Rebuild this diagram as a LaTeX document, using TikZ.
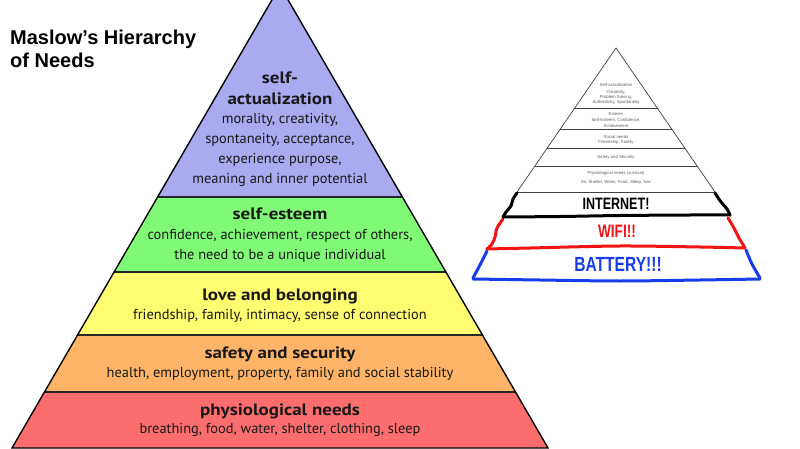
\documentclass[tikz,border=0pt]{standalone}
\usepackage{fontspec}
\setmainfont{PT Sans}
\newfontfamily\headfont[FakeStretch=1.15]{PT Sans}
\newfontfamily\titlefont{Liberation Sans}
\newfontfamily\handfont{Liberation Sans}
\definecolor{lav}{RGB}{170,170,240}
\definecolor{grn}{RGB}{128,250,118}
\definecolor{yel}{RGB}{254,252,112}
\definecolor{org}{RGB}{253,180,104}
\definecolor{rd}{RGB}{252,110,110}
\definecolor{txt}{RGB}{25,25,25}
\definecolor{hred}{RGB}{240,20,20}
\definecolor{hblue}{RGB}{25,60,235}
\definecolor{tiny}{RGB}{95,95,95}
\tikzset{
  head/.style={font=\headfont\fontsize{16.5}{18}\selectfont\bfseries, text=txt, inner sep=0pt},
  body/.style={font=\fontsize{14.4}{18}\selectfont, text=txt, inner sep=0pt},
  bandline/.style={draw=black!85, line width=1.3pt},
  smallline/.style={draw=black!75, line width=0.7pt},
  smalltext/.style={font=\titlefont\fontsize{4.3}{5}\selectfont, text=tiny, inner sep=0pt},
  hand/.style={line width=3pt, line cap=round, line join=round},
  handtext/.style={font=\handfont\bfseries, inner sep=0pt}
}
\begin{document}
\begin{tikzpicture}[x=1pt,y=-1pt]
\useasboundingbox (0,0) rectangle (800,449);
\fill[white] (0,0) rectangle (800,449);
% title
\node[font=\titlefont\bfseries\fontsize{20}{23}\selectfont, anchor=base west, inner sep=0pt] (t1) at (10,45) {Maslow’s Hierarchy};
\node[font=\titlefont\bfseries\fontsize{20}{23}\selectfont, anchor=base west, inner sep=0pt] (t2) at (10,68) {of Needs};
% big pyramid
\coordinate (apex) at (280,-14);
\coordinate (bl) at (12,448);
\coordinate (br) at (548,448);
\begin{scope}
\clip (apex) -- (bl) -- (br) -- cycle;
\fill[lav] (0,-20) rectangle (800,197);
\fill[grn] (0,197) rectangle (800,272);
\fill[yel] (0,272) rectangle (800,335);
\fill[org] (0,335) rectangle (800,392);
\fill[rd] (0,392) rectangle (800,460);
\end{scope}
\draw[bandline] (157.6,197) -- (402.4,197);
\draw[bandline] (114.1,272) -- (445.9,272);
\draw[bandline] (77.6,335) -- (482.4,335);
\draw[bandline] (44.5,392) -- (515.5,392);
\draw[line width=1.4pt, line join=miter] (apex) -- (bl) -- (br) -- cycle;
% texts
\node[head] (h1a) at (280,78) {self-};
\node[head] (h1b) at (280,99) {actualization};
\node[body] (b1a) at (280,120) {morality, creativity,};
\node[body] (b1b) at (280,140) {spontaneity, acceptance,};
\node[body] (b1c) at (280,160) {experience purpose,};
\node[body] (b1d) at (280,180) {meaning and inner potential};
\node[head] (h2) at (280,214) {self-esteem};
\node[body] (b2a) at (280,236) {confidence, achievement, respect of others,};
\node[body] (b2b) at (280,256) {the need to be a unique individual};
\node[head] (h3) at (280,296) {love and belonging};
\node[body] (b3) at (280,316) {friendship, family, intimacy, sense of connection};
\node[head] (h4) at (280,354) {safety and security};
\node[body] (b4) at (280,374) {health, employment, property, family and social stability};
\node[head] (h5) at (280,411) {physiological needs};
\node[body] (b5) at (280,430) {breathing, food, water, shelter, clothing, sleep};
% small pyramid
\coordinate (sapex) at (616,48);
\coordinate (sl) at (517,192);
\coordinate (sr) at (715,192);
\draw[smallline] (sl) -- (sapex) -- (sr);
\draw[smallline] (574.3,108.7) -- (657.7,108.7);
\draw[smallline] (559.8,129.7) -- (672.2,129.7);
\draw[smallline] (547.3,148) -- (684.7,148);
\draw[smallline] (534.9,166) -- (697.1,166);
\draw[smallline] (sl) -- (sr);
\node[smalltext] (s1) at (616,85) {Self-actualization};
\node[smalltext] (s2) at (616,92.5) {Creativity,};
\node[smalltext] (s3) at (616,97.5) {Problem Solving,};
\node[smalltext] (s4) at (616,102.5) {Authenticity, Spontaneity};
\node[smalltext] (s5) at (616,114) {Esteem};
\node[smalltext] (s6) at (616,120.5) {Self-Esteem, Confidence,};
\node[smalltext] (s7) at (616,125.5) {Achievement};
\node[smalltext] (s8) at (616,136.5) {Social needs};
\node[smalltext] (s9) at (616,142.5) {Friendship, Family};
\node[smalltext] (s10) at (616,157) {Safety and Security};
\node[smalltext] (s11) at (616,173) {Physiological needs (survival)};
\node[smalltext] (s12) at (616,182.5) {Air, Shelter, Water, Food, Sleep, Sex};
% hand drawn layers
\draw[hand, hblue] plot[smooth] coordinates {(487,251) (481,263) (473,278)};
\draw[hand, hblue] plot[smooth] coordinates {(473,279) (540,280) (620,281) (700,280) (760,279)};
\draw[hand, hblue] plot[smooth] coordinates {(746,250) (752,264) (760,278)};
\draw[hand, hred] plot[smooth] coordinates {(503,219) (497,228) (495,237) (492,244) (487,249)};
\draw[hand, hred] plot[smooth] coordinates {(487,249) (530,248) (620,246) (700,247) (745,248)};
\draw[hand, hred] plot[smooth] coordinates {(728,218) (734,228) (739,238) (745,248)};
\draw[hand, black] plot[smooth] coordinates {(517,193) (513,199) (511,206) (506,212) (503,217)};
\draw[hand, black] plot[smooth] coordinates {(503,217) (560,216.5) (620,215.5) (690,215) (730,215)};
\draw[hand, black] plot[smooth] coordinates {(715,193) (721,202) (727,209) (730,215)};
\node[handtext, font=\handfont\bfseries\fontsize{16.5}{18}\selectfont] (internet) at (616,204) {\scalebox{0.76}[1]{INTERNET!}};
\node[handtext, text=hred, font=\handfont\bfseries\fontsize{18}{20}\selectfont] (wifi) at (617,231.5) {\scalebox{0.76}[1]{WIFI!!}};
\node[handtext, text=hblue, font=\handfont\bfseries\fontsize{20.5}{22}\selectfont] (battery) at (618,264.5) {\scalebox{0.76}[1]{BATTERY!!!}};
\end{tikzpicture}
\end{document}
